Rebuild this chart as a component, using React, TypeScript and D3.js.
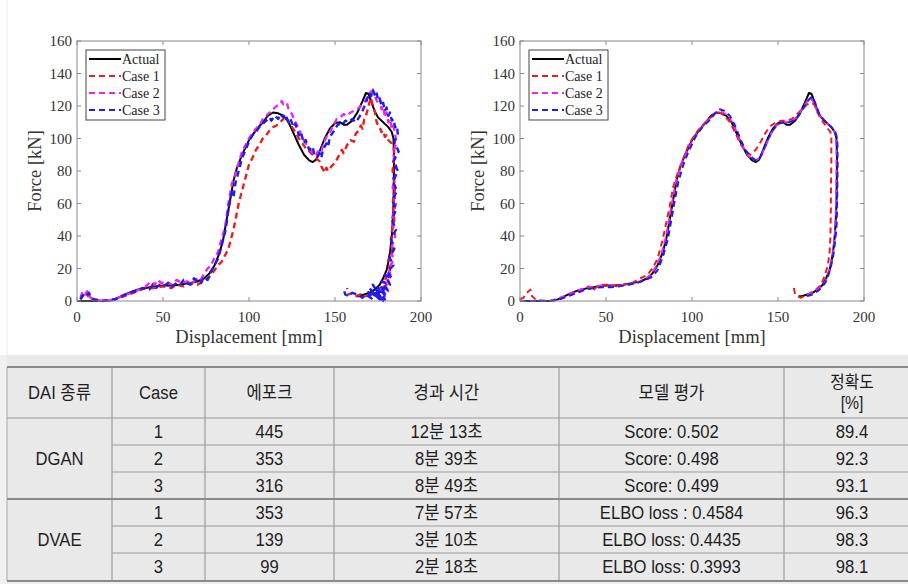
import React from 'react';
import * as d3 from 'd3';

type Pt = [number, number];

const xTicks = [0, 50, 100, 150, 200];
const yTicks = [0, 20, 40, 60, 80, 100, 120, 140, 160];
const seriesNames = ['Actual', 'Case 1', 'Case 2', 'Case 3'];
const seriesColors = ['#000000', '#f01c1c', '#ee22ee', '#1c1cf5'];

// measured curve (same in both panels)
const actual: Pt[] = [
  [0, 0], [10, 0], [18, 0], [22, 1], [26, 3], [30, 5], [35, 7], [40, 8], [45, 9], [50, 9.5],
  [55, 9.5], [60, 10], [65, 11], [70, 12], [74, 14], [77, 17], [80, 22], [83, 30], [85, 38],
  [87, 50], [89, 62], [91, 74], [93, 82], [96, 90], [100, 99], [104, 105], [108, 110], [111, 114],
  [114, 116], [117, 115.5], [120, 114], [123, 110], [126, 103], [129, 96], [132, 90], [135, 86.5],
  [137, 85.5], [139, 87], [141, 92], [144, 100], [147, 106], [150, 109.5], [153, 110], [155, 108.5],
  [157, 108.5], [160, 111], [163, 116], [166, 123], [168, 128], [169.5, 127.5], [171, 123],
  [173, 117], [175, 113], [178, 110], [181, 107], [183, 104], [184, 100], [184.3, 90], [184.2, 75],
  [184, 60], [183.5, 48], [183, 40], [182, 30], [181, 24], [180, 19], [178, 14], [176, 10],
  [173, 7], [170, 5], [167, 4], [164, 3], [162, 3],
];

// left panel (noisy cases)
const leftCase1: Pt[] = [
  [2, 1], [4, 4], [5, 6], [6, 4], [7, 2], [10, 1], [15, 0], [20, 0.5], [25, 2], [30, 4], [35, 6],
  [40, 8], [45, 8], [50, 9], [55, 8], [58, 10], [62, 9], [66, 11], [70, 10], [73, 12], [75, 13],
  [78, 16], [80, 19], [82, 22], [84, 24], [86, 28], [88, 32], [89, 36], [91, 44], [92.5, 52],
  [94, 60], [95.5, 66], [97, 72], [98.5, 78], [100, 84], [102, 88], [104, 93], [106, 96], [108, 100],
  [110, 102], [112, 105], [114, 107], [116, 108], [118, 110], [120, 112], [121, 114], [123, 110],
  [125, 107], [127, 104], [129, 100], [131, 97], [133, 94], [135, 92], [137, 90], [139, 88],
  [141, 86], [142, 83], [143, 81], [144, 79], [145, 82], [146, 80], [148, 83], [150, 85], [152, 89],
  [154, 93], [155, 91], [157, 96], [159, 99], [161, 98], [162, 103], [164, 105], [165, 108],
  [166, 106], [167, 112], [168, 114], [169, 118], [170, 122], [171, 125], [172, 120], [173, 117],
  [174, 111], [175, 108], [176, 107], [177, 104], [178, 105], [179, 101], [180, 102], [181, 99],
  [182, 98], [183, 97], [184, 95], [184.5, 90], [183.5, 80], [185, 70], [183.5, 60], [184.5, 50],
  [182.5, 40], [183.5, 32], [181, 25], [182, 18], [179, 13], [180, 10], [176, 7], [174, 5], [171, 4],
  [168, 3], [165, 4], [162, 3], [160, 5], [158, 4], [157, 8],
];

const leftCase2: Pt[] = [
  [2, 2], [3, 5], [4, 6], [5, 4], [6, 6], [7, 3], [9, 1], [12, 0.5], [16, 0], [20, 0.5], [24, 2],
  [28, 4], [32, 5], [36, 7], [40, 9], [43, 12], [45, 10], [47, 13], [49, 11], [52, 12], [55, 10],
  [58, 13], [61, 11], [64, 12], [67, 11], [70, 14], [72, 13], [74, 17], [76, 20], [78, 22], [80, 27],
  [82, 30], [84, 38], [86, 45], [87, 52], [88, 60], [89, 66], [90, 72], [92, 78], [94, 85], [96, 92],
  [98, 96], [100, 100], [102, 103], [104, 106], [106, 108], [108, 112], [110, 114], [112, 116],
  [114, 118], [116, 120], [118, 121], [119, 123], [120, 121], [122, 122], [123, 118], [125, 115],
  [127, 110], [129, 106], [131, 101], [133, 97], [135, 94], [137, 91], [139, 90], [140, 92],
  [142, 91], [143, 96], [145, 101], [147, 104], [149, 108], [151, 112], [153, 113], [155, 115],
  [157, 114], [159, 116], [161, 117], [163, 118], [165, 120], [167, 122], [169, 126], [171, 129],
  [173, 127], [174, 124], [175, 122], [176, 125], [177, 118], [178, 120], [179, 113], [180, 116],
  [181, 110], [182, 112], [183, 106], [184, 108], [185, 103], [185.5, 98], [184, 90], [186, 80],
  [183.5, 70], [185.5, 60], [183, 50], [185, 40], [182.5, 32], [184, 25], [181, 20], [183, 14],
  [179.5, 16], [182, 10], [178, 12], [181, 6], [176, 8], [179, 3], [174, 5], [177, 2],
];

const leftCase3: Pt[] = [
  [2, 1], [3, 3], [5, 5], [6, 4], [7, 5], [8, 2], [10, 1], [14, 0], [18, 0.5], [22, 1], [26, 3],
  [30, 5], [34, 6], [38, 8], [42, 7], [44, 10], [46, 8], [48, 10], [50, 9], [53, 11], [55, 9],
  [58, 11], [60, 10], [62, 13], [64, 11], [66, 10], [68, 14], [70, 12], [72, 11], [74, 15], [76, 13],
  [78, 18], [80, 22], [82, 26], [84, 34], [86, 42], [87, 48], [88, 56], [89, 62], [90, 67], [91, 64],
  [92, 72], [93, 76], [94, 80], [95, 84], [96, 88], [98, 93], [100, 98], [102, 102], [104, 104],
  [106, 107], [108, 109], [110, 111], [112, 113], [113, 111], [115, 114], [117, 112], [118, 115],
  [120, 113], [121, 115], [123, 110], [124, 112], [126, 107], [127, 109], [129, 102], [130, 104],
  [132, 97], [133, 99], [135, 93], [137, 95], [138, 90], [140, 89], [141, 91], [142, 88], [143, 93],
  [145, 97], [146, 95], [147, 101], [149, 104], [150, 106], [152, 109], [154, 108], [156, 111],
  [158, 110], [160, 112], [162, 110], [164, 113], [166, 117], [168, 122], [170, 128], [171, 126],
  [172, 130], [173, 127], [174, 129], [175, 124], [176, 125], [177, 120], [178, 122], [179, 117],
  [180, 119], [181, 114], [182, 116], [183, 111], [184, 112], [185, 107], [186, 108], [186.5, 103],
  [184.5, 98], [187, 92], [184, 86], [186.5, 80], [183.5, 74], [186, 68], [183.5, 62], [185.5, 56],
  [183, 50], [185.5, 44], [182.5, 38], [184.5, 32], [181.5, 27], [184, 22], [180.5, 18], [183, 14],
  [179, 16], [182, 10], [177, 12], [181, 6], [176, 9], [180, 3], [175, 8], [179, 1], [174, 5],
  [178, 0], [172, 10], [177, 2], [171, 6], [176, 1], [170, 8], [174, 3], [169, 6], [172, 1],
  [168, 4], [166, 2], [163, 4], [160, 5], [158, 3], [156, 4], [155, 7],
];

// right panel (smooth cases)
const rightCase1: Pt[] = [
  [0, 1], [2, 2], [4, 5], [6, 7], [7, 3], [9, 1], [12, 0.5], [16, 0], [20, 0.5], [25, 2], [30, 4],
  [35, 6], [38, 8], [40, 9], [42, 6], [45, 9], [48, 10], [52, 10], [56, 9], [60, 10], [65, 11],
  [70, 14], [74, 16], [77, 20], [80, 26], [83, 38], [85, 48], [87, 58], [89, 70], [92, 80], [95, 88],
  [98, 96], [102, 103], [106, 108], [110, 112], [113, 115], [116, 116], [119, 114], [122, 110],
  [125, 104], [128, 97], [131, 92], [134, 90], [137, 93], [140, 98], [143, 104], [146, 108],
  [149, 110], [152, 111], [155, 111], [158, 112], [161, 115], [164, 118], [167, 121], [169, 122],
  [171, 121], [173, 116], [175, 112], [177, 109], [179, 106], [180.5, 104], [181, 100], [181, 85],
  [180.8, 70], [180.7, 55], [180.5, 40], [180, 30], [179, 22], [177, 15], [175, 10], [172, 7],
  [169, 5], [166, 3], [163, 2], [160, 4], [159, 9],
];

const rightCase2: Pt[] = [
  [0, 0], [10, 0], [18, 0], [22, 1.5], [27, 3.5], [32, 6], [37, 7.5], [42, 8.5], [47, 9.5], [52, 9],
  [57, 9.5], [62, 10], [67, 11], [72, 13], [76, 16], [79, 21], [82, 28], [85, 40], [87, 52], [89, 64],
  [91, 75], [94, 85], [97, 92], [101, 100], [105, 106], [109, 111], [112, 114], [115, 117],
  [118, 116], [121, 114], [124, 109], [127, 101], [130, 94], [133, 89], [136, 87], [138, 87],
  [140, 89], [143, 96], [146, 103], [149, 108], [152, 110], [155, 110], [158, 111], [161, 113],
  [164, 118], [167, 123], [169, 125], [171, 122], [173, 116], [176, 112], [179, 109], [182, 106],
  [183.5, 103], [184, 95], [184, 80], [183.8, 65], [183.5, 50], [183, 40], [182, 30], [180.5, 22],
  [179, 16], [177, 11], [174, 8], [171, 6], [168, 4], [165, 3],
];

const rightCase3: Pt[] = [
  [0, 0], [10, 0], [18, 0], [23, 1], [28, 3], [33, 5], [38, 7], [43, 8], [48, 8.5], [53, 8.5],
  [58, 9], [63, 10], [68, 11], [73, 13], [77, 15], [80, 19], [83, 27], [86, 38], [88, 50], [90, 62],
  [92, 73], [95, 84], [98, 92], [102, 101], [106, 107], [110, 111], [113, 115], [116, 118],
  [119, 117], [122, 114], [125, 108], [128, 100], [131, 93], [134, 89], [137, 86.5], [139, 87],
  [141, 91], [144, 99], [147, 105], [150, 109], [153, 110], [156, 110], [159, 111], [162, 114],
  [165, 119], [168, 124], [170, 126], [172, 121], [174, 115], [177, 111], [180, 108], [183, 105],
  [184.5, 100], [184.7, 85], [184.5, 70], [184.3, 55], [184, 45], [183, 35], [182, 27], [180.5, 20],
  [178.5, 13], [176, 9], [173, 6], [170, 4], [167, 3], [165, 2],
];

// table
const tableHeaders = [['DAI 종류'], ['Case'], ['에포크'], ['경과 시간'], ['모델 평가'], ['정확도', '[%]']];
const daiTypes = ['DGAN', 'DVAE'];
const caseNos = ['1', '2', '3', '1', '2', '3'];
const epochs = ['445', '353', '316', '353', '139', '99'];
const elapsed = ['12분 13초', '8분 39초', '8분 49초', '7분 57초', '3분 10초', '2분 18초'];
const evals = ['Score: 0.502', 'Score: 0.498', 'Score: 0.499', 'ELBO loss : 0.4584', 'ELBO loss: 0.4435', 'ELBO loss: 0.3993'];
const accuracy = ['89.4', '92.3', '93.1', '96.3', '98.3', '98.1'];

const serif = '"Liberation Serif", "Times New Roman", serif';
const sans = '"Liberation Sans", Arial, "Noto Sans CJK KR", sans-serif';

const PLOT_W = 344;
const PLOT_TOP = 41;
const PLOT_BOTTOM = 301;

function Chart({ left, series, lw }: { left: number; series: Pt[][]; lw: number }) {
  const x = d3.scaleLinear().domain([0, 200]).range([left, left + PLOT_W]);
  const y = d3.scaleLinear().domain([0, 160]).range([PLOT_BOTTOM, PLOT_TOP]);
  const line = d3.line<Pt>().x(d => x(d[0])).y(d => y(d[1]));
  const tick = 4;
  const lx = left + 9;
  const ly = 50;

  return (
    <g>
      {series.map((s, i) => (
        <path key={i} d={line(s) || ''} fill="none" stroke={seriesColors[i]} strokeWidth={i === 0 ? 2 : lw}
          strokeDasharray={i === 0 ? undefined : '6,4'} strokeLinejoin="round" />
      ))}
      <rect x={left} y={PLOT_TOP} width={PLOT_W} height={PLOT_BOTTOM - PLOT_TOP} fill="none" stroke="#8a8a8a" strokeWidth={1} />
      {xTicks.map(t => (
        <g key={'x' + t}>
          <line x1={x(t)} x2={x(t)} y1={PLOT_BOTTOM} y2={PLOT_BOTTOM - tick} stroke="#8a8a8a" />
          <line x1={x(t)} x2={x(t)} y1={PLOT_TOP} y2={PLOT_TOP + tick} stroke="#8a8a8a" />
          <text x={x(t)} y={PLOT_BOTTOM + 21} textAnchor="middle" fontFamily={serif} fontSize={15} fill="#333">{t}</text>
        </g>
      ))}
      {yTicks.map(t => (
        <g key={'y' + t}>
          <line x1={left} x2={left + tick} y1={y(t)} y2={y(t)} stroke="#8a8a8a" />
          <line x1={left + PLOT_W} x2={left + PLOT_W - tick} y1={y(t)} y2={y(t)} stroke="#8a8a8a" />
          <text x={left - 5} y={y(t) + 5} textAnchor="end" fontFamily={serif} fontSize={15} fill="#333">{t}</text>
        </g>
      ))}
      <text x={left + PLOT_W / 2} y={343} textAnchor="middle" fontFamily={serif} fontSize={18.5} fill="#333">Displacement [mm]</text>
      <text transform={`translate(${left - 36},${(PLOT_TOP + PLOT_BOTTOM) / 2}) rotate(-90)`} textAnchor="middle"
        fontFamily={serif} fontSize={18.5} fill="#333">Force [kN]</text>
      <rect x={lx} y={ly} width={79} height={70} fill="#fff" stroke="#444" strokeWidth={1} />
      {seriesNames.map((n, i) => (
        <g key={n}>
          <line x1={lx + 3} x2={lx + 35} y1={ly + 9 + i * 17} y2={ly + 9 + i * 17} stroke={seriesColors[i]} strokeWidth={2}
            strokeDasharray={i === 0 ? undefined : '6,4'} />
          <text x={lx + 36} y={ly + 14 + i * 17} fontFamily={serif} fontSize={14} fill="#222">{n}</text>
        </g>
      ))}
    </g>
  );
}

function Table() {
  const colX = [7, 112, 205, 334, 559, 784, 920];
  const rowY = [367, 418, 445, 472, 499, 526, 553, 581];
  const cx = (c: number) => (colX[c] + colX[c + 1]) / 2;
  const cy = (r: number) => (rowY[r] + rowY[r + 1]) / 2;
  const cell = (txt: string, x: number, y: number, key: string, fs = 18.5) => (
    <text key={key} transform={`translate(${x},${y + fs * 0.33}) scale(0.9,1)`} textAnchor="middle" fontFamily={sans}
      fontSize={fs} fill="#1e1e1e">{txt}</text>
  );
  const rows = [caseNos, epochs, elapsed, evals, accuracy];
  return (
    <g>
      <rect x={0} y={355} width={908} height={229} fill="#f0f0f0" />
      <rect x={7} y={355} width={901} height={226} fill="#e9e9e9" />
      {colX.slice(1, 6).map((x, i) => (
        <line key={'c' + i} x1={x} x2={x} y1={rowY[0]} y2={rowY[7]} stroke="#8e8e8e" strokeWidth={1} />
      ))}
      <line x1={7} x2={7} y1={rowY[0]} y2={rowY[7]} stroke="#a8a8a8" strokeWidth={1} />
      {rowY.map((y, i) => {
        const full = i === 0 || i === 1 || i === 4 || i === 7;
        const heavy = i === 0 || i === 4 || i === 7;
        return (
          <line key={'r' + i} x1={full ? 7 : 112} x2={908} y1={y} y2={y}
            stroke={heavy ? '#8a8a8a' : '#9c9c9c'} strokeWidth={heavy ? 2 : 1.2} />
        );
      })}
      {tableHeaders.map((h, c) =>
        h.length === 1
          ? cell(h[0], cx(c), cy(0), 'h' + c)
          : h.map((t, k) => cell(t, cx(c), cy(0) - 10 + k * 21, 'h' + c + k, 17.5))
      )}
      {daiTypes.map((d, i) => cell(d, cx(0), (rowY[1 + i * 3] + rowY[4 + i * 3]) / 2, 'd' + i))}
      {rows.map((col, c) => col.map((v, r) => cell(v, cx(c + 1), cy(r + 1), 'v' + c + r)))}
    </g>
  );
}

export default function App() {
  return (
    <svg width={908} height={584} style={{ position: 'absolute', left: 0, top: 0, background: '#fff' }}>
      <rect x={0} y={0} width={908} height={584} fill="#fff" />
      <line x1={7} x2={7} y1={0} y2={355} stroke="#ececec" />
      <Chart left={77} lw={2.4} series={[actual, leftCase1, leftCase2, leftCase3]} />
      <Chart left={520} lw={2} series={[actual, rightCase1, rightCase2, rightCase3]} />
      <Table />
    </svg>
  );
}
